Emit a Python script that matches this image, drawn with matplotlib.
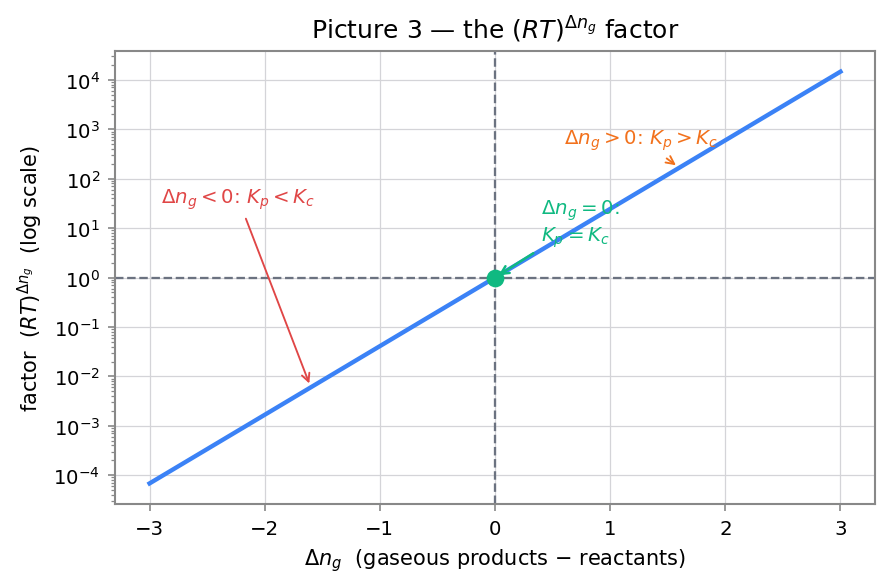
import matplotlib
matplotlib.use("Agg")
import matplotlib.pyplot as plt

# values of (RT)^dn at 298 K, RT ~ 24.47 L atm/mol
dn = [-3, -2, -1, 0, 1, 2, 3]
factor = [6.83e-5, 1.67e-3, 4.09e-2, 1.0, 24.47, 598.8, 14652.0]

red = "#e04646"
orange = "#f2711c"
green = "#10b981"
blue = "#3b82f6"

plt.rcParams["font.size"] = 10

fig, ax = plt.subplots(figsize=(5.92, 3.913), dpi=150)
ax.plot(dn, factor, color=blue, lw=2.1, zorder=3)
ax.set_yscale("log")
ax.axhline(1, color="#6b7280", ls="--", lw=1.1, zorder=2)
ax.axvline(0, color="#6b7280", ls="--", lw=1.1, zorder=2)
ax.plot([0], [1], "o", color=green, ms=7.5, zorder=5)

ax.annotate(r"$\Delta n_g < 0$: $K_p < K_c$", xy=(-1.6, 24.47 ** -1.6), xytext=(-2.9, 40),
            ha="left", va="center", color=red, fontsize=9.5,
            arrowprops=dict(arrowstyle="->", color=red, lw=0.9))
ax.annotate(r"$\Delta n_g > 0$: $K_p > K_c$", xy=(1.6, 24.47 ** 1.6), xytext=(0.6, 620),
            ha="left", va="center", color=orange, fontsize=9.5,
            arrowprops=dict(arrowstyle="->", color=orange, lw=0.9))
ax.annotate("$\\Delta n_g = 0$:\n$K_p = K_c$", xy=(0, 1), xytext=(0.4, 12.5),
            ha="left", va="center", color=green, fontsize=9.5,
            arrowprops=dict(arrowstyle="->", color=green, lw=1.2))

ax.set_title(r"Picture 3 — the $(RT)^{\Delta n_g}$ factor", fontsize=12)
ax.set_xlabel(r"$\Delta n_g$  (gaseous products − reactants)")
ax.set_ylabel(r"factor  $(RT)^{\Delta n_g}$  (log scale)")
ax.grid(True, color="#d4d4d8", lw=0.6, zorder=0)
for s in ax.spines.values():
    s.set_color("#888888")
    s.set_linewidth(1.0)
ax.tick_params(which="both", color="#888888", labelsize=9.5)

fig.subplots_adjust(left=0.1295, right=0.9854, top=0.9114, bottom=0.1397)
fig.savefig("out.png")
